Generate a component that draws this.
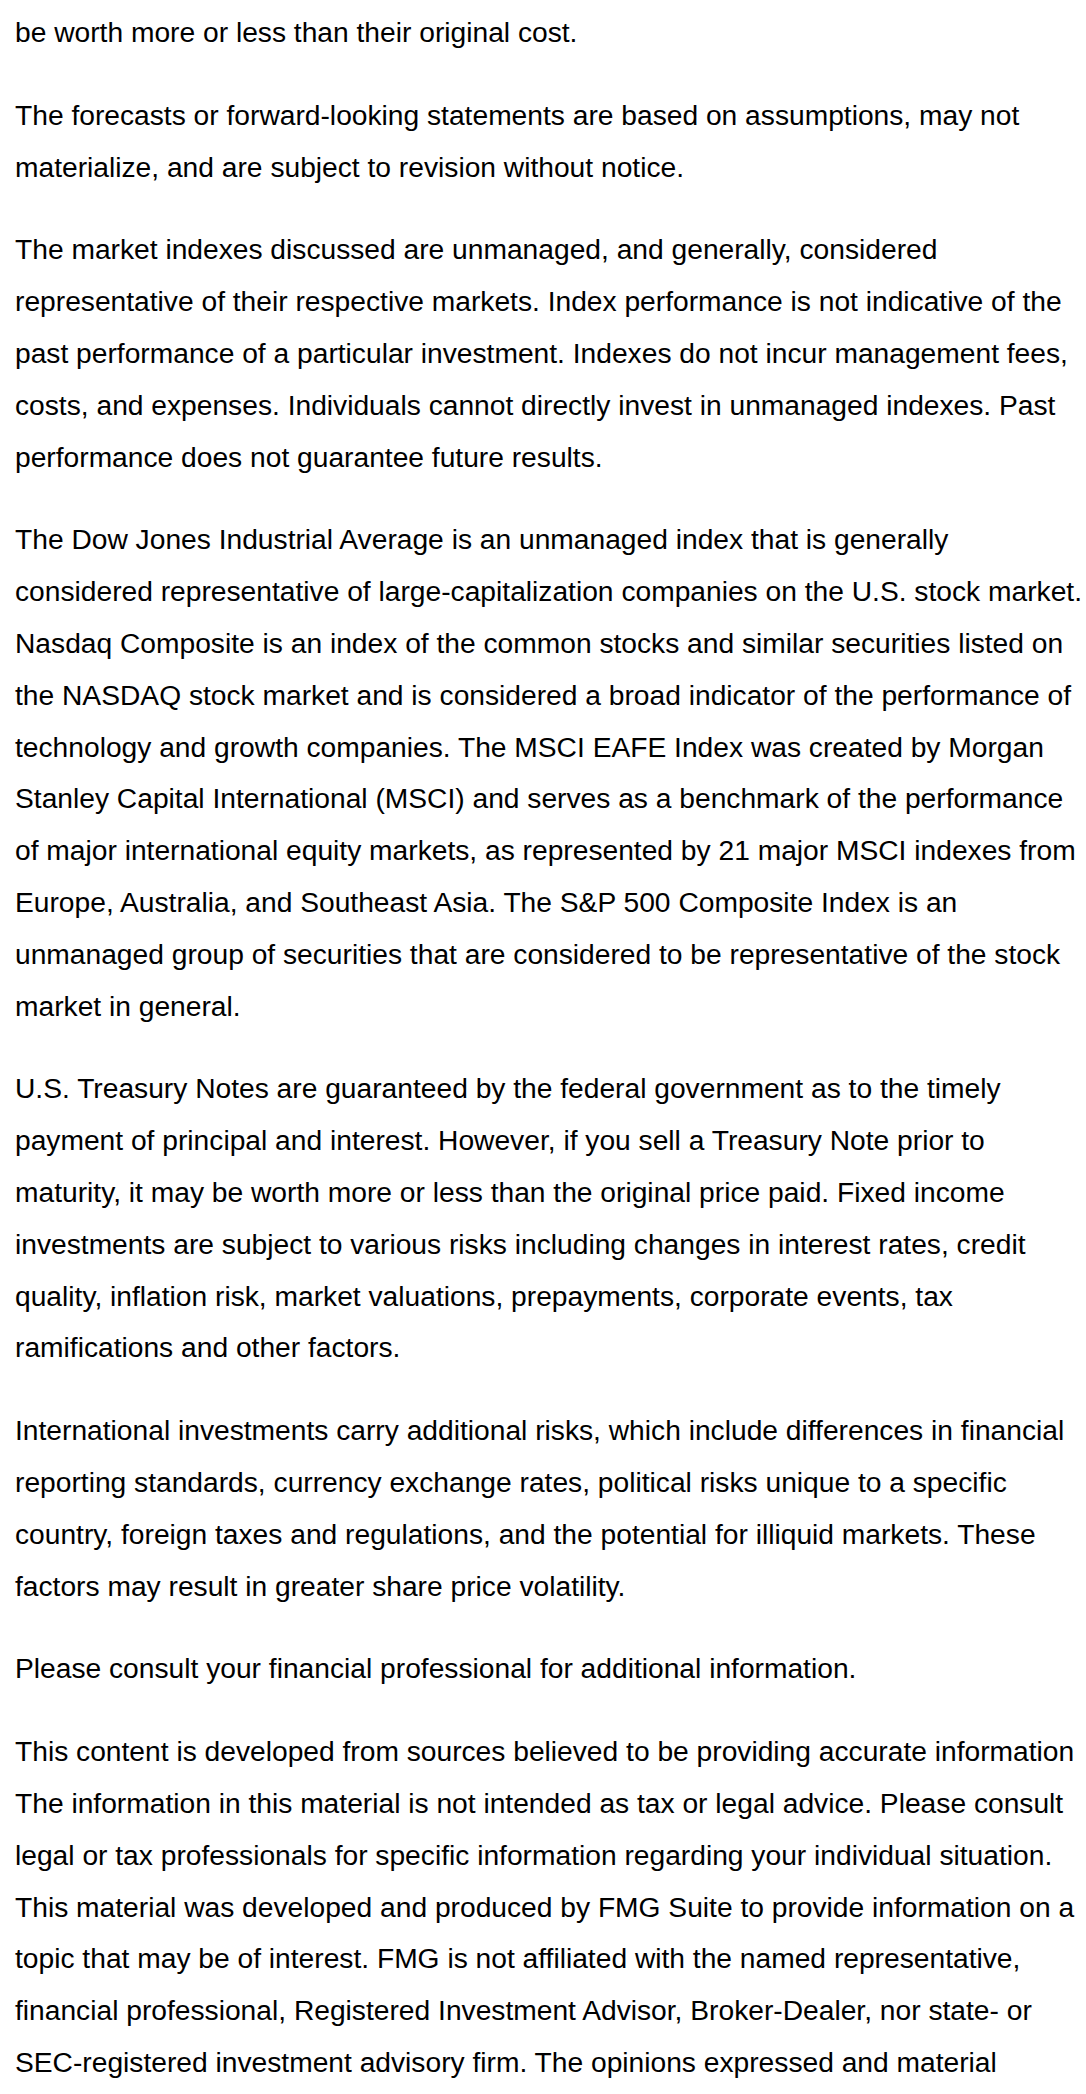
import React from "react";

const paragraph0: string[] = ["be worth more or less than their original cost."];
const paragraph1: string[] = [
  "The forecasts or forward-looking statements are based on assumptions, may not",
  "materialize, and are subject to revision without notice.",
];
const paragraph2: string[] = [
  "The market indexes discussed are unmanaged, and generally, considered",
  "representative of their respective markets. Index performance is not indicative of the",
  "past performance of a particular investment. Indexes do not incur management fees,",
  "costs, and expenses. Individuals cannot directly invest in unmanaged indexes. Past",
  "performance does not guarantee future results.",
];
const paragraph3: string[] = [
  "The Dow Jones Industrial Average is an unmanaged index that is generally",
  "considered representative of large-capitalization companies on the U.S. stock market.",
  "Nasdaq Composite is an index of the common stocks and similar securities listed on",
  "the NASDAQ stock market and is considered a broad indicator of the performance of",
  "technology and growth companies. The MSCI EAFE Index was created by Morgan",
  "Stanley Capital International (MSCI) and serves as a benchmark of the performance",
  "of major international equity markets, as represented by 21 major MSCI indexes from",
  "Europe, Australia, and Southeast Asia. The S&P 500 Composite Index is an",
  "unmanaged group of securities that are considered to be representative of the stock",
  "market in general.",
];
const paragraph4: string[] = [
  "U.S. Treasury Notes are guaranteed by the federal government as to the timely",
  "payment of principal and interest. However, if you sell a Treasury Note prior to",
  "maturity, it may be worth more or less than the original price paid. Fixed income",
  "investments are subject to various risks including changes in interest rates, credit",
  "quality, inflation risk, market valuations, prepayments, corporate events, tax",
  "ramifications and other factors.",
];
const paragraph5: string[] = [
  "International investments carry additional risks, which include differences in financial",
  "reporting standards, currency exchange rates, political risks unique to a specific",
  "country, foreign taxes and regulations, and the potential for illiquid markets. These",
  "factors may result in greater share price volatility.",
];
const paragraph6: string[] = [
  "Please consult your financial professional for additional information.",
];
const paragraph7: string[] = [
  "This content is developed from sources believed to be providing accurate information",
  "The information in this material is not intended as tax or legal advice. Please consult",
  "legal or tax professionals for specific information regarding your individual situation.",
  "This material was developed and produced by FMG Suite to provide information on a",
  "topic that may be of interest. FMG is not affiliated with the named representative,",
  "financial professional, Registered Investment Advisor, Broker-Dealer, nor state- or",
  "SEC-registered investment advisory firm. The opinions expressed and material",
];

const paragraphs: string[][] = [
  paragraph0,
  paragraph1,
  paragraph2,
  paragraph3,
  paragraph4,
  paragraph5,
  paragraph6,
  paragraph7,
];

export default function App() {
  return (
    <div
      style={{
        position: "absolute",
        left: 0,
        top: 0,
        width: 1086,
        height: 2094,
        overflow: "hidden",
        background: "#ffffff",
        color: "#000000",
        fontFamily: "'Liberation Sans', Arial, sans-serif",
        fontSize: 28.2,
        lineHeight: "51.8px",
        boxSizing: "border-box",
        paddingTop: 7,
        paddingLeft: 15,
      }}
    >
      {paragraphs.map((lines, pi) => (
        <div key={pi} style={{ marginBottom: 31 }}>
          {lines.map((line, li) => (
            <div key={li} style={{ whiteSpace: "nowrap" }}>
              {line}
            </div>
          ))}
        </div>
      ))}
    </div>
  );
}
